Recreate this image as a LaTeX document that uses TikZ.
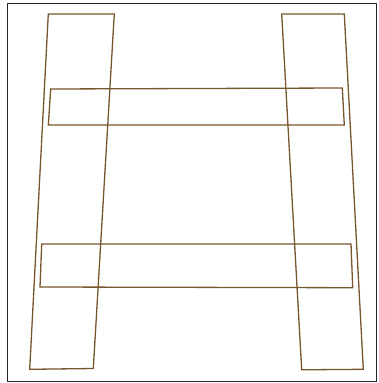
\documentclass[tikz,border=0pt]{standalone}
\definecolor{rail}{HTML}{77562C}
\begin{document}
\begin{tikzpicture}[x=1pt,y=-1pt,
  part/.style={draw=rail,line width=1.3pt,line join=miter},
  frame/.style={draw=black!85,line width=1pt}]
\useasboundingbox (0,0) rectangle (378,383);
\draw[frame] (7.5,3.5) rectangle (376.8,381.5);
% left rail
\draw[part] (48.3,14) -- (114.3,14) -- (93.3,368.5) -- (29.7,369.3) -- cycle;
% right rail
\draw[part] (281.7,14) -- (344.3,14) -- (363.3,369.3) -- (301.7,369.8) -- cycle;
% upper rung
\draw[part] (50.7,89) -- (342.3,88) -- (344.3,125) -- (48.3,125) -- cycle;
% lower rung
\draw[part] (41.7,244) -- (351,244) -- (352.7,287.7) -- (40,287) -- cycle;
\end{tikzpicture}
\end{document}
